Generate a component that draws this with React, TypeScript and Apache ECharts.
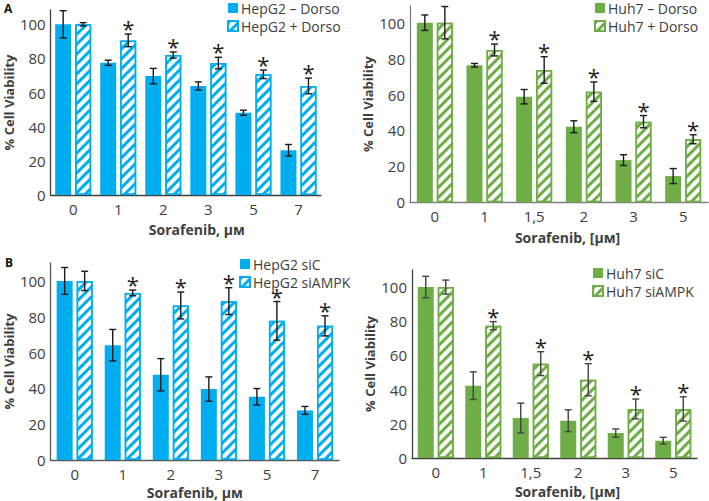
import React, { useEffect, useRef } from "react";
import * as echarts from "echarts";

const catsHep = ["0", "1", "2", "3", "5", "7"];
const catsHuh = ["0", "1", "1,5", "2", "3", "5"];

const hepMinusDorso = [100, 77.5, 69.7, 63.9, 48.2, 26.2];
const hepMinusDorsoErr = [8, 1.5, 4.5, 2.4, 1.5, 3.4];
const hepPlusDorso = [100, 90.6, 82, 77.3, 70.7, 63.9];
const hepPlusDorsoErr = [1, 3.7, 1.8, 3.4, 2.5, 4.6];

const huhMinusDorso = [100, 76.3, 58.8, 42.1, 23.5, 14.6];
const huhMinusDorsoErr = [4.3, 1, 4, 3.3, 3, 4.2];
const huhPlusDorso = [100, 84.8, 73.7, 61.6, 44.9, 35.1];
const huhPlusDorsoErr = [9, 3.3, 7.4, 5.4, 3.4, 2.5];

const hepSiC = [100, 64.1, 47.6, 39.6, 35.3, 27.7];
const hepSiCErr = [7.5, 8.8, 9, 6.8, 4.6, 2.2];
const hepSiAMPK = [100, 93.3, 86.3, 88.7, 77.7, 74.9];
const hepSiAMPKErr = [5.4, 1.6, 7.5, 7.5, 10.8, 5.6];

const huhSiC = [100, 42.3, 23.4, 21.8, 14.6, 10.1];
const huhSiCErr = [6.3, 8.1, 8.7, 6.4, 2.4, 2];
const huhSiAMPK = [100, 77.4, 55.2, 45.8, 28.7, 28.7];
const huhSiAMPKErr = [4.1, 2.4, 7, 9.4, 5.8, 7.1];

const significant = [0, 1, 1, 1, 1, 1];

const BLUE = "#00AEEF";
const GREEN = "#6FAD47";
const FONT = "Open Sans";
const TXT = "#404040";
const FS_TICK = 15;
const FS_LEG = 14;
const FS_NAME = 14;

const BAR_W = 16;
const OFF = 10;

type Panel = {
  grid: { left: number; top: number; width: number; height: number };
  max: number;
  cats: string[];
  color: string;
  names: [string, string];
  solid: number[];
  solidErr: number[];
  hatched: number[];
  hatchedErr: number[];
  xName: string;
  xNameShift: number;
  xNameGap: number;
  yNameGap: number;
  axisColor: string;
  errColor: string;
  legend: { left: number; top: number };
};

const panels: Panel[] = [
  {
    grid: { left: 47, top: 10, width: 274, height: 185 },
    max: 108.4,
    cats: catsHep,
    color: BLUE,
    names: ["HepG2 \u2013 Dorso", "HepG2 + Dorso"],
    solid: hepMinusDorso,
    solidErr: hepMinusDorsoErr,
    hatched: hepPlusDorso,
    hatchedErr: hepPlusDorsoErr,
    xName: "Sorafenib, \u03bc\u043c",
    xNameShift: 22,
    xNameGap: 27,
    yNameGap: 30,
    axisColor: "#404040",
    errColor: "#1a1a1a",
    legend: { left: 227, top: 0 },
  },
  {
    grid: { left: 410, top: 6, width: 298, height: 196.3 },
    max: 109.3,
    cats: catsHuh,
    color: GREEN,
    names: ["Huh7 \u2013 Dorso", "Huh7 + Dorso"],
    solid: huhMinusDorso,
    solidErr: huhMinusDorsoErr,
    hatched: huhPlusDorso,
    hatchedErr: huhPlusDorsoErr,
    xName: "Sorafenib, [\u03bc\u043c]",
    xNameShift: 17,
    xNameGap: 28,
    yNameGap: 34,
    axisColor: "#808080",
    errColor: "#1a1a1a",
    legend: { left: 594, top: 0 },
  },
  {
    grid: { left: 47, top: 263, width: 292, height: 197 },
    max: 110,
    cats: catsHep,
    color: BLUE,
    names: ["HepG2 siC", "HepG2 siAMPK"],
    solid: hepSiC,
    solidErr: hepSiCErr,
    hatched: hepSiAMPK,
    hatchedErr: hepSiAMPKErr,
    xName: "Sorafenib, \u03bc\u043c",
    xNameShift: 0,
    xNameGap: 25,
    yNameGap: 30,
    axisColor: "#595959",
    errColor: "#1a1a1a",
    legend: { left: 239, top: 256 },
  },
  {
    grid: { left: 412, top: 270, width: 285, height: 188 },
    max: 110,
    cats: catsHuh,
    color: GREEN,
    names: ["Huh7 siC", "Huh7 siAMPK"],
    solid: huhSiC,
    solidErr: huhSiCErr,
    hatched: huhSiAMPK,
    hatchedErr: huhSiAMPKErr,
    xName: "Sorafenib, [\u03bc\u043c]",
    xNameShift: 26,
    xNameGap: 26,
    yNameGap: 34,
    axisColor: "#404040",
    errColor: "#444444",
    legend: { left: 592, top: 265 },
  },
];

function errRender(off: number, color: string) {
  return (params: any, api: any) => {
    const i = api.value(0);
    const v = api.value(1);
    const e = api.value(2);
    const s = api.value(3);
    const c = api.coord([i, v]);
    const x = c[0] + off;
    const yt = api.coord([i, v + e])[1];
    const yb = api.coord([i, v - e])[1];
    const st = { stroke: color, lineWidth: 1.4 };
    const children: any[] = [
      { type: "line", shape: { x1: x, y1: yt, x2: x, y2: yb }, style: st },
      { type: "line", shape: { x1: x - 3.5, y1: yt, x2: x + 3.5, y2: yt }, style: st },
      { type: "line", shape: { x1: x - 3.5, y1: yb, x2: x + 3.5, y2: yb }, style: st },
    ];
    if (s) {
      children.push({
        type: "text",
        x: x,
        y: yt - 6,
        style: {
          text: "*",
          fill: "#222",
          font: `22px '${FONT}'`,
          align: "center",
          verticalAlign: "middle",
        },
      });
    }
    return { type: "group", children };
  };
}

export default function App() {
  const ref = useRef<HTMLDivElement>(null);
  useEffect(() => {
    if (!ref.current) return;
    const chart = echarts.init(ref.current, null, { renderer: "svg" });
    const grid: any[] = [];
    const xAxis: any[] = [];
    const yAxis: any[] = [];
    const series: any[] = [];
    const legend: any[] = [];
    panels.forEach((p, k) => {
      grid.push({ ...p.grid, containLabel: false });
      xAxis.push({
        type: "category",
        gridIndex: k,
        data: p.cats,
        axisTick: { show: false },
        axisLine: { show: true, lineStyle: { color: p.axisColor, width: 1.3 } },
        axisLabel: {
          color: TXT,
          fontFamily: FONT,
          fontSize: FS_TICK,
          lineHeight: 14,
          margin: 7,
        },
        name: p.xName,
        nameLocation: "middle",
        nameGap: p.xNameGap,
        nameTextStyle: {
          color: TXT,
          fontFamily: FONT,
          fontSize: FS_NAME,
          fontWeight: "bold",
          lineHeight: 15,
          padding: [0, 0, 0, p.xNameShift],
        },
      });
      yAxis.push({
        type: "value",
        gridIndex: k,
        min: 0,
        max: p.max,
        interval: 20,
        splitLine: { show: false },
        axisTick: { show: false },
        axisLine: { show: true, lineStyle: { color: p.axisColor, width: 1.3 } },
        axisLabel: {
          color: TXT,
          fontFamily: FONT,
          fontSize: FS_TICK,
          margin: 5,
          showMaxLabel: false,
        },
        name: "% Cell Viability",
        nameLocation: "middle",
        nameGap: p.yNameGap,
        nameTextStyle: {
          color: TXT,
          fontFamily: FONT,
          fontSize: 13,
          fontWeight: "bold",
          lineHeight: 15,
        },
      });
      series.push({
        type: "bar",
        name: p.names[0],
        xAxisIndex: k,
        yAxisIndex: k,
        data: p.solid,
        barWidth: BAR_W,
        barGap: "25%",
        itemStyle: { color: p.color },
      });
      series.push({
        type: "bar",
        name: p.names[1],
        xAxisIndex: k,
        yAxisIndex: k,
        data: p.hatched,
        barWidth: BAR_W,
        barGap: "25%",
        itemStyle: {
          color: "#ffffff",
          borderColor: p.color,
          borderWidth: 1.5,
          decal: {
            symbol: "rect",
            symbolSize: 1,
            dashArrayX: [1, 0],
            dashArrayY: [2.5, 3.5],
            rotation: -Math.PI / 4,
            color: p.color,
          },
        },
      });
      series.push({
        type: "custom",
        xAxisIndex: k,
        yAxisIndex: k,
        z: 5,
        renderItem: errRender(-OFF, p.errColor),
        encode: { x: 0, y: 1 },
        data: p.solid.map((v, i) => [i, v, p.solidErr[i], 0]),
      });
      series.push({
        type: "custom",
        xAxisIndex: k,
        yAxisIndex: k,
        z: 5,
        renderItem: errRender(OFF, p.errColor),
        encode: { x: 0, y: 1 },
        data: p.hatched.map((v, i) => [i, v, p.hatchedErr[i], significant[i]]),
      });
      legend.push({
        data: p.names,
        orient: "vertical",
        left: p.legend.left,
        top: p.legend.top,
        itemWidth: 10,
        itemHeight: 10,
        itemGap: 2,
        icon: "rect",
        padding: 0,
        textStyle: {
          color: TXT,
          fontFamily: FONT,
          fontSize: FS_LEG,
          lineHeight: 16,
          padding: [0, 0, 0, -2],
        },
      });
    });
    chart.setOption({
      animation: false,
      backgroundColor: "#ffffff",
      grid,
      xAxis,
      yAxis,
      series,
      legend,
      graphic: [
        {
          type: "text",
          left: 4,
          top: 2,
          style: { text: "A", font: `bold 12px '${FONT}'`, fill: "#111" },
        },
        {
          type: "text",
          left: 5,
          top: 256,
          style: { text: "B", font: `bold 12px '${FONT}'`, fill: "#111" },
        },
      ],
    });
    return () => chart.dispose();
  }, []);
  return (
    <div
      ref={ref}
      style={{ position: "absolute", left: 0, top: 0, width: 709, height: 501 }}
    />
  );
}
